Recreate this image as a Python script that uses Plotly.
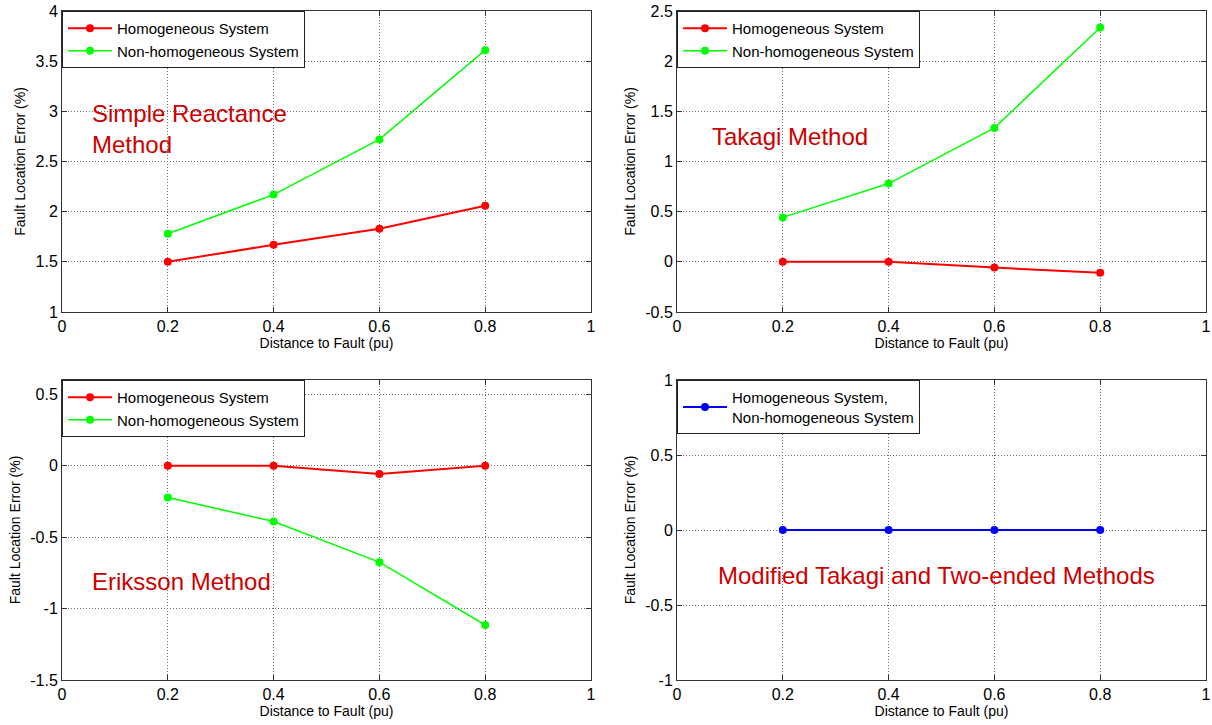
import plotly.graph_objects as go

# ---- data ----
distance = [0.2, 0.4, 0.6, 0.8]

sr_homog = [1.50, 1.67, 1.83, 2.06]
sr_nonhomog = [1.78, 2.17, 2.72, 3.61]

tk_homog = [0.0, 0.0, -0.057, -0.11]
tk_nonhomog = [0.443, 0.78, 1.335, 2.335]

er_homog = [0.0, 0.0, -0.058, 0.0]
er_nonhomog = [-0.222, -0.39, -0.675, -1.115]

mt_both = [0.0, 0.0, 0.0, 0.0]

x_ticks = [0, 0.2, 0.4, 0.6, 0.8, 1]
x_labels = ["0", "0.2", "0.4", "0.6", "0.8", "1"]
y1_ticks = [1, 1.5, 2, 2.5, 3, 3.5, 4]
y1_labels = ["1", "1.5", "2", "2.5", "3", "3.5", "4"]
y2_ticks = [-0.5, 0, 0.5, 1, 1.5, 2, 2.5]
y2_labels = ["-0.5", "0", "0.5", "1", "1.5", "2", "2.5"]
y3_ticks = [-1.5, -1, -0.5, 0, 0.5]
y3_labels = ["-1.5", "-1", "-0.5", "0", "0.5"]
y4_ticks = [-1, -0.5, 0, 0.5, 1]
y4_labels = ["-1", "-0.5", "0", "0.5", "1"]

W, H = 1212, 725
FONT = "Liberation Sans, Arial, Helvetica, sans-serif"
RED, GREEN, BLUE = "#ff0000", "#00ff00", "#0000ff"
ANN = "#cc0000"

# domains (pixel based)
xl = [62 / W, 591 / W]
xr = [677 / W, 1206 / W]
yt = [1 - 312 / H, 1 - 11 / H]
yb = [1 - 680 / H, 1 - 380 / H]

fig = go.Figure()

def add(x, y, name, color, xa, ya, legend, width=1.5):
    fig.add_trace(go.Scatter(
        x=x, y=y, name=name, mode="lines+markers",
        line=dict(color=color, width=width),
        marker=dict(color=color, size=8),
        xaxis=xa, yaxis=ya, legend=legend))

add(distance, sr_homog, "Homogeneous System", RED, "x", "y", "legend", 2)
add(distance, sr_nonhomog, "Non-homogeneous System", GREEN, "x", "y", "legend")
add(distance, tk_homog, "Homogeneous System", RED, "x2", "y2", "legend2", 2)
add(distance, tk_nonhomog, "Non-homogeneous System", GREEN, "x2", "y2", "legend2")
add(distance, er_homog, "Homogeneous System", RED, "x3", "y3", "legend3", 2)
add(distance, er_nonhomog, "Non-homogeneous System", GREEN, "x3", "y3", "legend3")
add(distance, mt_both, "Homogeneous System,<br>Non-homogeneous System", BLUE, "x4", "y4", "legend4", 2)

GRID = dict(showgrid=True, gridcolor="#6e6e6e", griddash="1px,2px", gridwidth=1,
            showline=True, linecolor="#333333", linewidth=1, mirror="allticks",
            ticks="inside", ticklen=5, tickcolor="#333333", zeroline=False,
            automargin=False,
            tickfont=dict(family=FONT, size=16, color="black"))

def xaxis(domain, anchor):
    return dict(domain=domain, anchor=anchor, range=[0, 1],
                tickvals=x_ticks, ticktext=x_labels, **GRID,
                title=dict(text="Distance to Fault (pu)", standoff=2,
                           font=dict(family=FONT, size=14, color="black")))

def yaxis(domain, anchor, rng, tv, tt):
    return dict(domain=domain, anchor=anchor, range=rng,
                tickvals=tv, ticktext=tt, **GRID,
                title=dict(text="Fault Location Error (%)", standoff=6,
                           font=dict(family=FONT, size=14, color="black")))

def legend(x, y):
    return dict(x=x, y=y, xanchor="left", yanchor="top", xref="paper", yref="paper",
                bgcolor="white", bordercolor="#222222", borderwidth=1,
                font=dict(family=FONT, size=15, color="black"),
                itemwidth=44, tracegroupgap=0)

fig.update_layout(
    width=W, height=H,
    paper_bgcolor="white", plot_bgcolor="white",
    margin=dict(l=0, r=0, t=0, b=0),
    font=dict(family=FONT, color="black"),
    xaxis=xaxis(xl, "y"), yaxis=yaxis(yt, "x", [1, 4], y1_ticks, y1_labels),
    xaxis2=xaxis(xr, "y2"), yaxis2=yaxis(yt, "x2", [-0.5, 2.5], y2_ticks, y2_labels),
    xaxis3=xaxis(xl, "y3"), yaxis3=yaxis(yb, "x3", [-1.5, 0.6], y3_ticks, y3_labels),
    xaxis4=xaxis(xr, "y4"), yaxis4=yaxis(yb, "x4", [-1, 1], y4_ticks, y4_labels),
    legend=legend(xl[0], yt[1]),
    legend2=legend(xr[0], yt[1]),
    legend3=legend(xl[0], yb[1]),
    legend4=legend(xr[0], yb[1]),
)

def note(text, x, y, xr_, yr_):
    fig.add_annotation(text=text, x=x, y=y, xref=xr_, yref=yr_,
                       xanchor="left", yanchor="middle", align="left", showarrow=False,
                       font=dict(family=FONT, size=24, color=ANN))

note("Simple Reactance<br>Method", 0.053, 2.82, "x", "y")
note("Takagi Method", 0.062, 1.25, "x2", "y2")
note("Eriksson Method", 0.053, -0.81, "x3", "y3")
note("Modified Takagi and Two-ended Methods", 0.074, -0.305, "x4", "y4")

fig.write_html("out.html",
               config={"displayModeBar": False},
               post_script="document.body.style.margin='0';document.body.style.overflow='hidden';")
